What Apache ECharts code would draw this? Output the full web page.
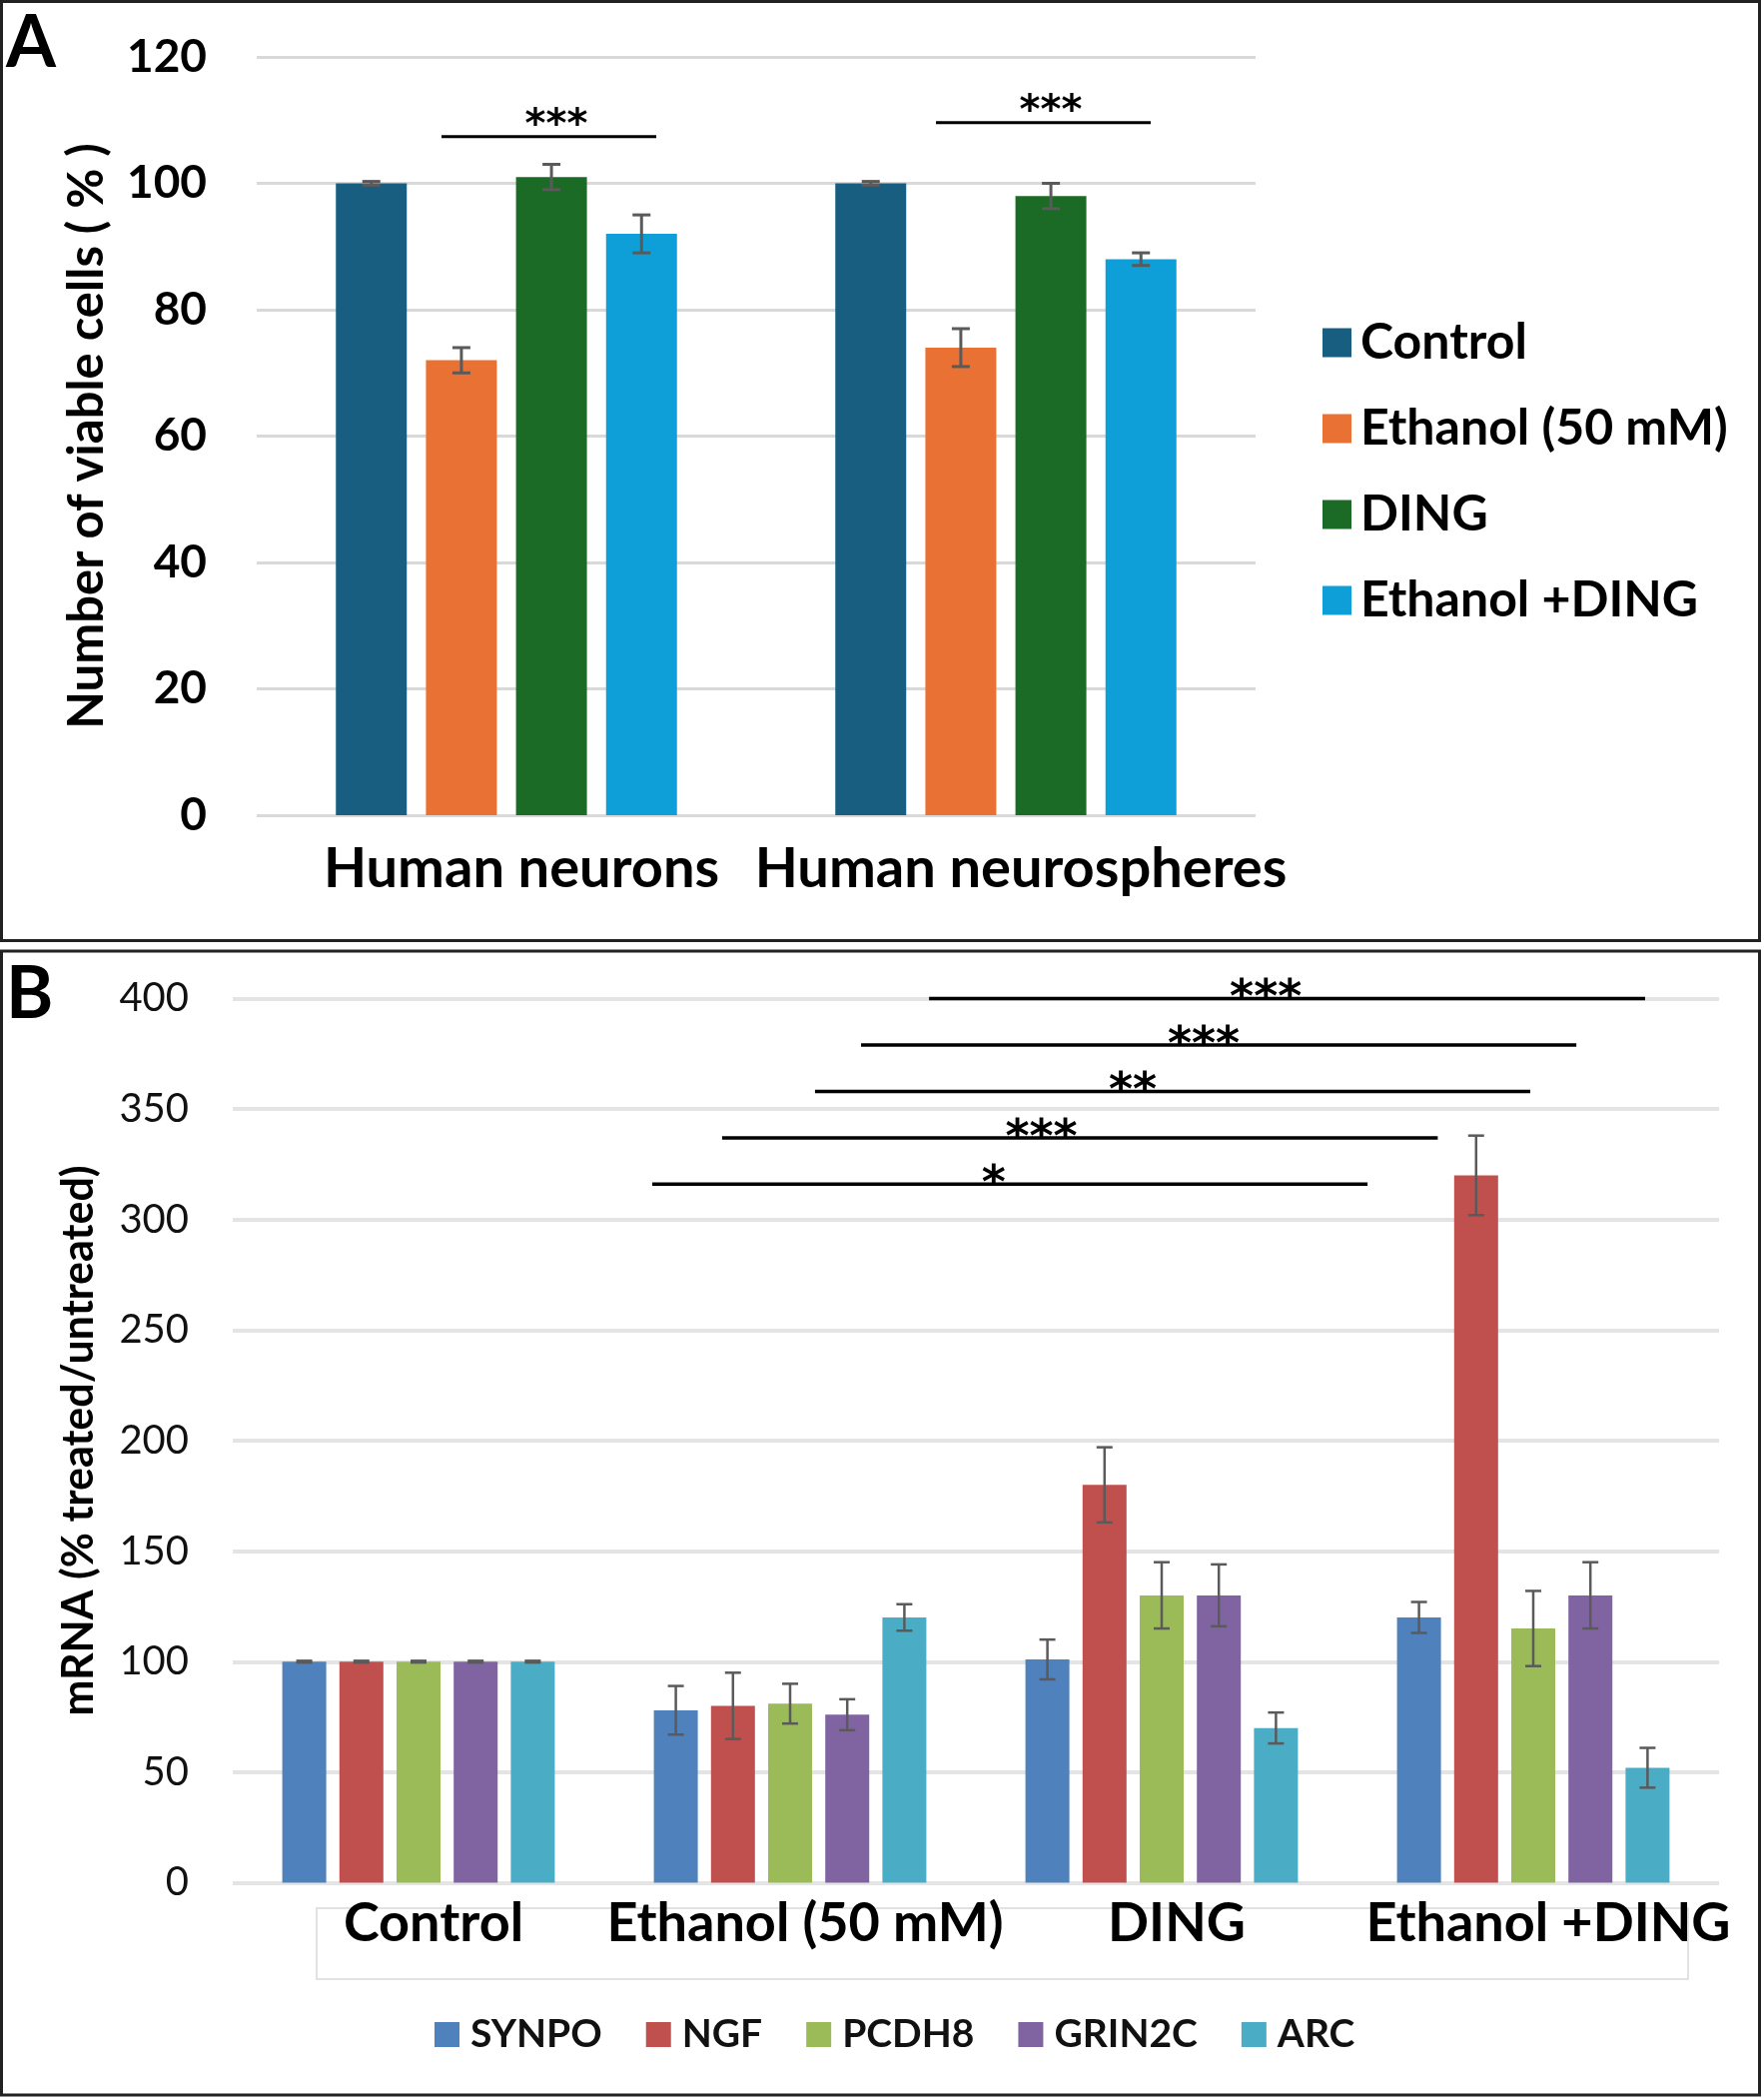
<!DOCTYPE html>
<html>
<head>
<meta charset="utf-8">
<title>Viability and mRNA</title>
<script src="https://cdn.jsdelivr.net/npm/echarts@6/dist/echarts.min.js"></script>
<style>
  html, body { margin: 0; padding: 0; background: #fff; }
  #chart { width: 1766px; height: 2100px; }
</style>
</head>
<body>
<div id="chart"></div>
<script>
// ---- panel A: viable cells ----
const groupsA = ['Human neurons', 'Human neurospheres'];
const treatmentsA = ['Control', 'Ethanol (50 mM)', 'DING', 'Ethanol +DING'];
const controlA = [100, 100];
const ethanolA = [72, 74];
const dingA = [101, 98];
const ethDingA = [92, 88];
const controlAErr = [0.3, 0.3];
const ethanolAErr = [2, 3];
const dingAErr = [2, 2];
const ethDingAErr = [3, 1];
const colorsA = ['#185e80', '#e97133', '#1b6b26', '#0f9fd8'];

// significance bars A (x in group units, 0..2)
const sigAStart = [0.37, 1.36];
const sigAEnd = [0.80, 1.79];
const sigALevel = [107.4, 109.6];
const sigAStarX = [0.60, 1.59];
const sigALabel = ['***', '***'];

// ---- panel B: mRNA ----
const conditionsB = ['Control', 'Ethanol (50 mM)', 'DING', 'Ethanol +DING'];
const genesB = ['SYNPO', 'NGF', 'PCDH8', 'GRIN2C', 'ARC'];
const synpo = [100, 78, 101, 120];
const ngf = [100, 80, 180, 320];
const pcdh8 = [100, 81, 130, 115];
const grin2c = [100, 76, 130, 130];
const arc = [100, 120, 70, 52];
const synpoErr = [0.4, 11, 9, 7];
const ngfErr = [0.4, 15, 17, 18];
const pcdh8Err = [0.4, 9, 15, 17];
const grin2cErr = [0.4, 7, 14, 15];
const arcErr = [0.4, 6, 7, 9];
const colorsB = ['#4f81bd', '#c0504d', '#9bbb59', '#8064a2', '#4bacc6'];

// significance bars B (x in group units, 0..4)
const sigBStart = [1.874, 1.691, 1.567, 1.317, 1.129];
const sigBEnd = [3.801, 3.616, 3.492, 3.243, 3.054];
const sigBLevel = [400, 379, 358, 337, 316];
const sigBStarX = [2.78, 2.613, 2.422, 2.176, 2.048];
const sigBLabel = ['***', '***', '**', '***', '*'];

const seriesA = [controlA, ethanolA, dingA, ethDingA];
const errA = [controlAErr, ethanolAErr, dingAErr, ethDingAErr];
const seriesB = [synpo, ngf, pcdh8, grin2c, arc];
const errB = [synpoErr, ngfErr, pcdh8Err, grin2cErr, arcErr];

const barWA = 71, gapA = 0.27;
const barWB = 44, gapB = 0.30;

function errorRows(values, errs) {
  const rows = [];
  values.forEach((vals, s) => vals.forEach((v, c) => rows.push([c, v, errs[s][c], s])));
  return rows;
}

function errorBars(n, pitch, capW, lw) {
  return function (params, api) {
    const cat = api.value(0), v = api.value(1), e = api.value(2), s = api.value(3);
    const x = api.coord([cat, v])[0] + (s - (n - 1) / 2) * pitch;
    const yt = api.coord([cat, v + e])[1];
    const yb = api.coord([cat, v - e])[1];
    const st = { stroke: '#5a5a5a', lineWidth: lw };
    return {
      type: 'group',
      children: [
        { type: 'line', shape: { x1: x, y1: yt, x2: x, y2: yb }, style: st },
        { type: 'line', shape: { x1: x - capW / 2, y1: yt, x2: x + capW / 2, y2: yt }, style: st },
        { type: 'line', shape: { x1: x - capW / 2, y1: yb, x2: x + capW / 2, y2: yb }, style: st }
      ]
    };
  };
}

function sigBars(labels, font, lw, starDy) {
  return function (params, api) {
    const p1 = api.coord([api.value(0), api.value(2)]);
    const p2 = api.coord([api.value(1), api.value(2)]);
    const ps = api.coord([api.value(3), api.value(2)]);
    return {
      type: 'group',
      children: [
        { type: 'line', shape: { x1: p1[0], y1: p1[1], x2: p2[0], y2: p2[1] },
          style: { stroke: '#000', lineWidth: lw } },
        { type: 'text', x: ps[0], y: ps[1] + starDy,
          style: { text: labels[params.dataIndex], font: font, fill: '#000',
                   align: 'center', verticalAlign: 'middle' } }
      ]
    };
  };
}

const chart = echarts.init(document.getElementById('chart'), null, { renderer: 'canvas' });

const barsA = treatmentsA.map((name, i) => ({
  name: name, type: 'bar', xAxisIndex: 0, yAxisIndex: 0,
  data: seriesA[i], barWidth: barWA, barGap: (gapA * 100) + '%',
  itemStyle: { color: colorsA[i] }
}));
const barsB = genesB.map((name, i) => ({
  name: name, type: 'bar', xAxisIndex: 1, yAxisIndex: 1,
  data: seriesB[i], barWidth: barWB, barGap: (gapB * 100) + '%',
  itemStyle: { color: colorsB[i] }
}));

const option = {
  animation: false,
  backgroundColor: '#fff',
  textStyle: { fontFamily: 'Lato' },
  grid: [
    { left: 257, width: 1000, top: 57, height: 759 },
    { left: 233, width: 1488, top: 999.5, height: 885 }
  ],
  legend: [
    {
      data: treatmentsA, orient: 'vertical', left: 1319, top: 313,
      itemWidth: 29, itemHeight: 29, itemGap: 36, icon: 'rect',
      textStyle: { fontFamily: 'Lato', fontWeight: 'bold', fontSize: 50, lineHeight: 50,
                   color: '#000', padding: [0, 0, 0, 4] }
    },
    {
      data: genesB, orient: 'horizontal', left: 430, top: 2012,
      itemWidth: 25, itemHeight: 25, itemGap: 44, icon: 'rect',
      textStyle: { fontFamily: 'Lato', fontWeight: 'bold', fontSize: 39, lineHeight: 39,
                   color: '#111', padding: [0, 0, 0, 6] }
    }
  ],
  xAxis: [
    {
      type: 'category', gridIndex: 0, data: groupsA,
      axisLine: { show: false }, axisTick: { show: false },
      axisLabel: { interval: 0, fontFamily: 'Lato', fontWeight: 'bold', fontSize: 56, color: '#000',
                   margin: 26, padding: [0, 0, 0, 30] }
    },
    {
      type: 'category', gridIndex: 1, data: conditionsB,
      axisLine: { show: false }, axisTick: { show: false },
      axisLabel: { interval: 0, fontFamily: 'Lato', fontWeight: 'bold', fontSize: 54, color: '#000',
                   margin: 14, padding: [0, 0, 0, 30] }
    },
    { type: 'value', gridIndex: 0, min: 0, max: groupsA.length, show: false },
    { type: 'value', gridIndex: 1, min: 0, max: conditionsB.length, show: false }
  ],
  yAxis: [
    {
      type: 'value', gridIndex: 0, min: 0, max: 120, interval: 20,
      name: 'Number of viable cells ( % )', nameLocation: 'middle', nameRotate: 90, nameGap: 145,
      nameTextStyle: { fontFamily: 'Lato', fontWeight: 'bold', fontSize: 49, color: '#000' },
      axisLine: { show: false }, axisTick: { show: false },
      axisLabel: { fontFamily: 'Lato', fontWeight: 'bold', fontSize: 46, color: '#000', margin: 50 },
      splitLine: { lineStyle: { color: '#d9d9d9', width: 3 } }
    },
    {
      type: 'value', gridIndex: 1, min: 0, max: 400, interval: 50,
      name: 'mRNA (% treated/untreated)', nameLocation: 'middle', nameRotate: 90, nameGap: 132,
      nameTextStyle: { fontFamily: 'Lato', fontWeight: 'bold', fontSize: 43, color: '#000' },
      axisLine: { show: false }, axisTick: { show: false },
      axisLabel: { fontFamily: 'Lato', fontSize: 40, color: '#111', margin: 44 },
      splitLine: { lineStyle: { color: '#e4e4e4', width: 4 } }
    }
  ],
  series: [
    ...barsA,
    ...barsB,
    {
      name: 'errA', type: 'custom', xAxisIndex: 0, yAxisIndex: 0, z: 5,
      encode: { x: 0, y: 1 },
      data: errorRows(seriesA, errA),
      renderItem: errorBars(seriesA.length, barWA * (1 + gapA), 18, 3)
    },
    {
      name: 'errB', type: 'custom', xAxisIndex: 1, yAxisIndex: 1, z: 5,
      encode: { x: 0, y: 1 },
      data: errorRows(seriesB, errB),
      renderItem: errorBars(seriesB.length, barWB * (1 + gapB), 16, 2.5)
    },
    {
      name: 'sigA', type: 'custom', xAxisIndex: 2, yAxisIndex: 0, z: 6,
      encode: { x: [0, 1], y: 2 },
      data: sigALevel.map((lv, i) => [sigAStart[i], sigAEnd[i], lv, sigAStarX[i]]),
      renderItem: sigBars(sigALabel, 'bold 40px "DejaVu Sans"', 3, -10)
    },
    {
      name: 'sigB', type: 'custom', xAxisIndex: 3, yAxisIndex: 1, z: 6,
      encode: { x: [0, 1], y: 2 },
      data: sigBLevel.map((lv, i) => [sigBStart[i], sigBEnd[i], lv, sigBStarX[i]]),
      renderItem: sigBars(sigBLabel, 'bold 46px "DejaVu Sans"', 3.5, 2)
    }
  ],
  graphic: [
    { type: 'rect', z: 0, shape: { x: 1.5, y: 1.5, width: 1760, height: 940 },
      style: { fill: 'none', stroke: '#222', lineWidth: 3 } },
    { type: 'rect', z: 0, shape: { x: 1.5, y: 952, width: 1760, height: 1145 },
      style: { fill: 'none', stroke: '#222', lineWidth: 3 } },
    { type: 'rect', z: 0, shape: { x: 317, y: 1910, width: 1373, height: 71 },
      style: { fill: 'none', stroke: '#d9d9d9', lineWidth: 1.5 } },
    { type: 'text', z: 10, x: 6, y: 8,
      style: { text: 'A', font: 'bold 72px Lato', fill: '#000', verticalAlign: 'top' } },
    { type: 'text', z: 10, x: 6, y: 960,
      style: { text: 'B', font: 'bold 72px Lato', fill: '#000', verticalAlign: 'top' } }
  ]
};

chart.setOption(option);
</script>
</body>
</html>
